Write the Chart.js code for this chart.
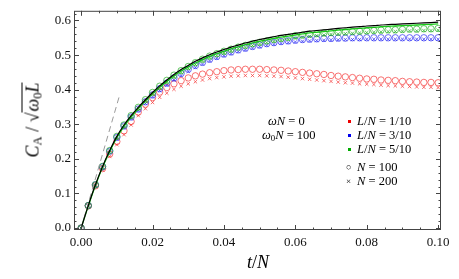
<!DOCTYPE html>
<html>
<head>
<meta charset="utf-8">
<script src="https://cdn.jsdelivr.net/npm/chart.js@4.4.1/dist/chart.umd.min.js"></script>
<style>
  body { margin: 0; background: #fff; }
  #wrap { position: relative; width: 459px; height: 279px; font-family: "Liberation Serif", "DejaVu Serif", serif; color: #000; }
  #grafico { position: absolute; left: 0; top: 0; }
  .txt { position: absolute; white-space: nowrap; font-size: 12.5px; line-height: 14px; }
  .sq { position: absolute; width: 3px; height: 3px; }
  sub { font-size: 0.7em; vertical-align: -0.25em; line-height: 0; }
  #ytitulo { position: absolute; left: 33px; top: 120px; transform: translate(-50%, -50%) rotate(-90deg); font-size: 18px; white-space: nowrap; }
  #xtitulo { position: absolute; left: 258px; top: 262px; transform: translate(-50%, -50%); font-size: 18px; }
  .raiz { border-top: 1px solid #000; padding-left: 1px; }
</style>
</head>
<body>
<div id="wrap">
  <canvas id="grafico" width="459" height="279"></canvas>
  <div id="ytitulo"><i>C</i><sub>A</sub> / √<span class="raiz"><i>ω</i><sub>0</sub><i>L</i></span></div>
  <div id="xtitulo"><i>t</i>/<i>N</i></div>

  <div class="txt" style="left:268px; top:114px;"><i>ωN</i> = 0</div>
  <div class="txt" style="left:262px; top:128px;"><i>ω</i><sub>0</sub><i>N</i> = 100</div>

  <div class="sq" style="left:348px; top:120px; background:#e00;"></div>
  <div class="txt" style="left:357px; top:114px;"><i>L</i>/<i>N</i> = 1/10</div>
  <div class="sq" style="left:348px; top:134px; background:#00e;"></div>
  <div class="txt" style="left:357px; top:128px;"><i>L</i>/<i>N</i> = 3/10</div>
  <div class="sq" style="left:348px; top:148px; background:#0a0;"></div>
  <div class="txt" style="left:357px; top:142px;"><i>L</i>/<i>N</i> = 5/10</div>
  <div class="txt" style="left:346px; top:160px; font-size:9px;">○</div>
  <div class="txt" style="left:357px; top:160px;"><i>N</i> = 100</div>
  <div class="txt" style="left:346px; top:174px; font-size:9px;">×</div>
  <div class="txt" style="left:357px; top:174px;"><i>N</i> = 200</div>
</div>

<script>
// tempo t/N
const tempos = [0, 0.002, 0.004, 0.006, 0.008, 0.010, 0.012, 0.014, 0.016, 0.018,
  0.020, 0.022, 0.024, 0.026, 0.028, 0.030, 0.032, 0.034, 0.036, 0.038,
  0.040, 0.042, 0.044, 0.046, 0.048, 0.050, 0.052, 0.054, 0.056, 0.058,
  0.060, 0.062, 0.064, 0.066, 0.068, 0.070, 0.072, 0.074, 0.076, 0.078,
  0.080, 0.082, 0.084, 0.086, 0.088, 0.090, 0.092, 0.094, 0.096, 0.098, 0.100];

// curva preta (teoria)
const curvaPreta = [0, 0.065, 0.125, 0.178, 0.224, 0.265, 0.298, 0.325, 0.349, 0.371,
  0.392, 0.411, 0.428, 0.444, 0.458, 0.470, 0.482, 0.492, 0.501, 0.509,
  0.516, 0.523, 0.529, 0.535, 0.540, 0.545, 0.549, 0.553, 0.557, 0.560,
  0.563, 0.566, 0.569, 0.571, 0.573, 0.575, 0.577, 0.579, 0.581, 0.582,
  0.584, 0.585, 0.587, 0.588, 0.589, 0.590, 0.591, 0.592, 0.593, 0.594, 0.595];

// curva verde logo abaixo da preta
const curvaVerde = [0, 0.064, 0.123, 0.176, 0.221, 0.261, 0.294, 0.321, 0.345, 0.367,
  0.388, 0.407, 0.424, 0.440, 0.454, 0.466, 0.477, 0.487, 0.496, 0.504,
  0.511, 0.518, 0.524, 0.530, 0.535, 0.540, 0.544, 0.548, 0.552, 0.555,
  0.558, 0.561, 0.564, 0.566, 0.568, 0.570, 0.572, 0.574, 0.576, 0.577,
  0.579, 0.580, 0.582, 0.583, 0.584, 0.585, 0.586, 0.587, 0.588, 0.589, 0.590];

// L/N = 1/10
const vermelho100 = [0, 0.064, 0.122, 0.172, 0.214, 0.250, 0.281, 0.308, 0.335, 0.358,
  0.377, 0.393, 0.406, 0.417, 0.426, 0.434, 0.440, 0.445, 0.449, 0.452,
  0.455, 0.457, 0.458, 0.459, 0.459, 0.459, 0.458, 0.457, 0.456, 0.454,
  0.452, 0.450, 0.448, 0.446, 0.444, 0.441, 0.439, 0.437, 0.435, 0.433,
  0.431, 0.430, 0.428, 0.427, 0.426, 0.424, 0.423, 0.422, 0.421, 0.421, 0.420];
const vermelho200 = [0, 0.063, 0.120, 0.168, 0.207, 0.241, 0.270, 0.298, 0.325, 0.345,
  0.363, 0.378, 0.390, 0.401, 0.410, 0.417, 0.423, 0.428, 0.432, 0.435,
  0.437, 0.439, 0.440, 0.441, 0.441, 0.441, 0.440, 0.439, 0.438, 0.436,
  0.434, 0.432, 0.430, 0.428, 0.426, 0.424, 0.422, 0.420, 0.419, 0.417,
  0.416, 0.415, 0.413, 0.412, 0.411, 0.410, 0.409, 0.408, 0.407, 0.407, 0.406];

// L/N = 3/10
const azul100 = [0, 0.065, 0.125, 0.177, 0.222, 0.262, 0.295, 0.321, 0.344, 0.365,
  0.385, 0.403, 0.419, 0.434, 0.447, 0.459, 0.470, 0.479, 0.488, 0.496,
  0.503, 0.509, 0.515, 0.520, 0.525, 0.529, 0.533, 0.536, 0.539, 0.541,
  0.543, 0.545, 0.546, 0.547, 0.548, 0.548, 0.549, 0.549, 0.550, 0.550,
  0.550, 0.550, 0.550, 0.550, 0.550, 0.550, 0.550, 0.550, 0.550, 0.550, 0.550];
const azul200 = [0, 0.064, 0.123, 0.175, 0.219, 0.258, 0.290, 0.316, 0.339, 0.360,
  0.379, 0.397, 0.413, 0.428, 0.441, 0.453, 0.464, 0.474, 0.483, 0.491,
  0.498, 0.504, 0.510, 0.515, 0.520, 0.524, 0.528, 0.531, 0.534, 0.536,
  0.538, 0.540, 0.541, 0.542, 0.543, 0.544, 0.544, 0.545, 0.545, 0.545,
  0.546, 0.546, 0.546, 0.546, 0.546, 0.546, 0.546, 0.546, 0.546, 0.546, 0.546];

// L/N = 5/10
const verde100 = [0, 0.065, 0.125, 0.178, 0.224, 0.265, 0.298, 0.325, 0.349, 0.371,
  0.392, 0.410, 0.427, 0.442, 0.455, 0.467, 0.478, 0.488, 0.497, 0.504,
  0.511, 0.517, 0.523, 0.528, 0.533, 0.537, 0.541, 0.545, 0.548, 0.551,
  0.556, 0.558, 0.560, 0.562, 0.564, 0.565, 0.566, 0.567, 0.568, 0.569,
  0.570, 0.571, 0.572, 0.573, 0.573, 0.574, 0.575, 0.575, 0.576, 0.576, 0.577];
const verde200 = [0, 0.064, 0.124, 0.177, 0.223, 0.263, 0.296, 0.322, 0.346, 0.368,
  0.388, 0.406, 0.422, 0.437, 0.450, 0.462, 0.473, 0.483, 0.492, 0.499,
  0.506, 0.512, 0.518, 0.523, 0.528, 0.532, 0.536, 0.540, 0.543, 0.546,
  0.549, 0.552, 0.554, 0.556, 0.558, 0.560, 0.561, 0.562, 0.563, 0.564,
  0.565, 0.566, 0.567, 0.568, 0.568, 0.569, 0.570, 0.570, 0.571, 0.571, 0.572];

// reta tracejada (inclinação inicial)
const retaX = [0, 0.0108];
const retaY = [0, 0.385];

const ticksX = [0, 0.02, 0.04, 0.06, 0.08, 0.10];
const ticksY = [0, 0.1, 0.2, 0.3, 0.4, 0.5, 0.6];

function pontos(ys, xs) {
  xs = xs || tempos;
  return ys.map((y, i) => ({ x: xs[i], y: y }));
}

// moldura com marcas para dentro, estilo Mathematica
const moldura = {
  id: 'moldura',
  afterDraw(chart) {
    const { ctx, chartArea: a, scales } = chart;
    ctx.save();
    ctx.strokeStyle = '#444';
    ctx.lineWidth = 1;
    ctx.strokeRect(a.left + 0.5, a.top + 0.5, a.right - a.left - 1, a.bottom - a.top - 1);
    ctx.beginPath();
    for (let k = 0; k <= 20; k++) {
      const v = k * 0.005;
      const px = Math.round(scales.x.getPixelForValue(v)) + 0.5;
      const len = k % 4 === 0 ? 5 : 2.5;
      ctx.moveTo(px, a.bottom); ctx.lineTo(px, a.bottom - len);
      ctx.moveTo(px, a.top); ctx.lineTo(px, a.top + len);
    }
    for (let k = 0; k <= 31; k++) {
      const v = k * 0.02;
      const py = Math.round(scales.y.getPixelForValue(v)) + 0.5;
      const len = k % 5 === 0 ? 5 : 2.5;
      ctx.moveTo(a.left, py); ctx.lineTo(a.left + len, py);
      ctx.moveTo(a.right, py); ctx.lineTo(a.right - len, py);
    }
    ctx.stroke();
    ctx.restore();
  }
};

const vermelho = 'rgba(245, 40, 40, 0.65)';
const azul = 'rgba(30, 30, 245, 0.65)';
const verde = 'rgba(20, 170, 20, 0.65)';

function marcadores(rotulo, ys, cor, estilo) {
  return {
    label: rotulo,
    data: pontos(ys),
    pointStyle: estilo,
    pointRadius: estilo === 'circle' ? 3.2 : 2.4,
    borderColor: cor,
    backgroundColor: 'rgba(0,0,0,0)',
    borderWidth: 1,
    showLine: false
  };
}

const grafico = new Chart(document.getElementById('grafico'), {
  type: 'scatter',
  data: {
    datasets: [
      { label: 'teoria', data: pontos(curvaPreta), showLine: true, pointRadius: 0,
        borderColor: '#000', borderWidth: 1.2, cubicInterpolationMode: 'monotone' },
      { label: 'reta', data: pontos(retaY, retaX), showLine: true, pointRadius: 0,
        borderColor: '#9a9a9a', borderWidth: 1, borderDash: [6, 4] },
      marcadores('L/N = 5/10, N = 200', verde200, verde, 'crossRot'),
      marcadores('L/N = 5/10, N = 100', verde100, verde, 'circle'),
      { label: 'verde', data: pontos(curvaVerde), showLine: true, pointRadius: 0,
        borderColor: 'rgba(0, 200, 0, 0.9)', borderWidth: 1.3, cubicInterpolationMode: 'monotone' },
      marcadores('L/N = 3/10, N = 200', azul200, azul, 'crossRot'),
      marcadores('L/N = 3/10, N = 100', azul100, azul, 'circle'),
      marcadores('L/N = 1/10, N = 200', vermelho200, vermelho, 'crossRot'),
      marcadores('L/N = 1/10, N = 100', vermelho100, vermelho, 'circle')
    ]
  },
  options: {
    responsive: false,
    animation: false,
    devicePixelRatio: 1,
    layout: { padding: { top: 5, right: 18, left: 0, bottom: 0 } },
    plugins: { legend: { display: false }, tooltip: { enabled: false } },
    scales: {
      x: {
        type: 'linear', min: -0.002, max: 0.1008,
        afterFit: s => { s.height = 49; },
        afterBuildTicks: s => { s.ticks = ticksX.map(v => ({ value: v })); },
        grid: { display: false, drawTicks: false },
        border: { display: false },
        ticks: { padding: 5, autoSkip: false, maxRotation: 0, color: '#111',
          font: { family: 'Liberation Serif', size: 13 },
          callback: v => v.toFixed(2) }
      },
      y: {
        type: 'linear', min: -0.0056, max: 0.628,
        afterFit: s => { s.width = 74; },
        afterBuildTicks: s => { s.ticks = ticksY.map(v => ({ value: v })); },
        grid: { display: false, drawTicks: false },
        border: { display: false },
        ticks: { padding: 3, autoSkip: false, color: '#111',
          font: { family: 'Liberation Serif', size: 13 },
          callback: v => v.toFixed(1) }
      }
    }
  },
  plugins: [moldura]
});
</script>
</body>
</html>
